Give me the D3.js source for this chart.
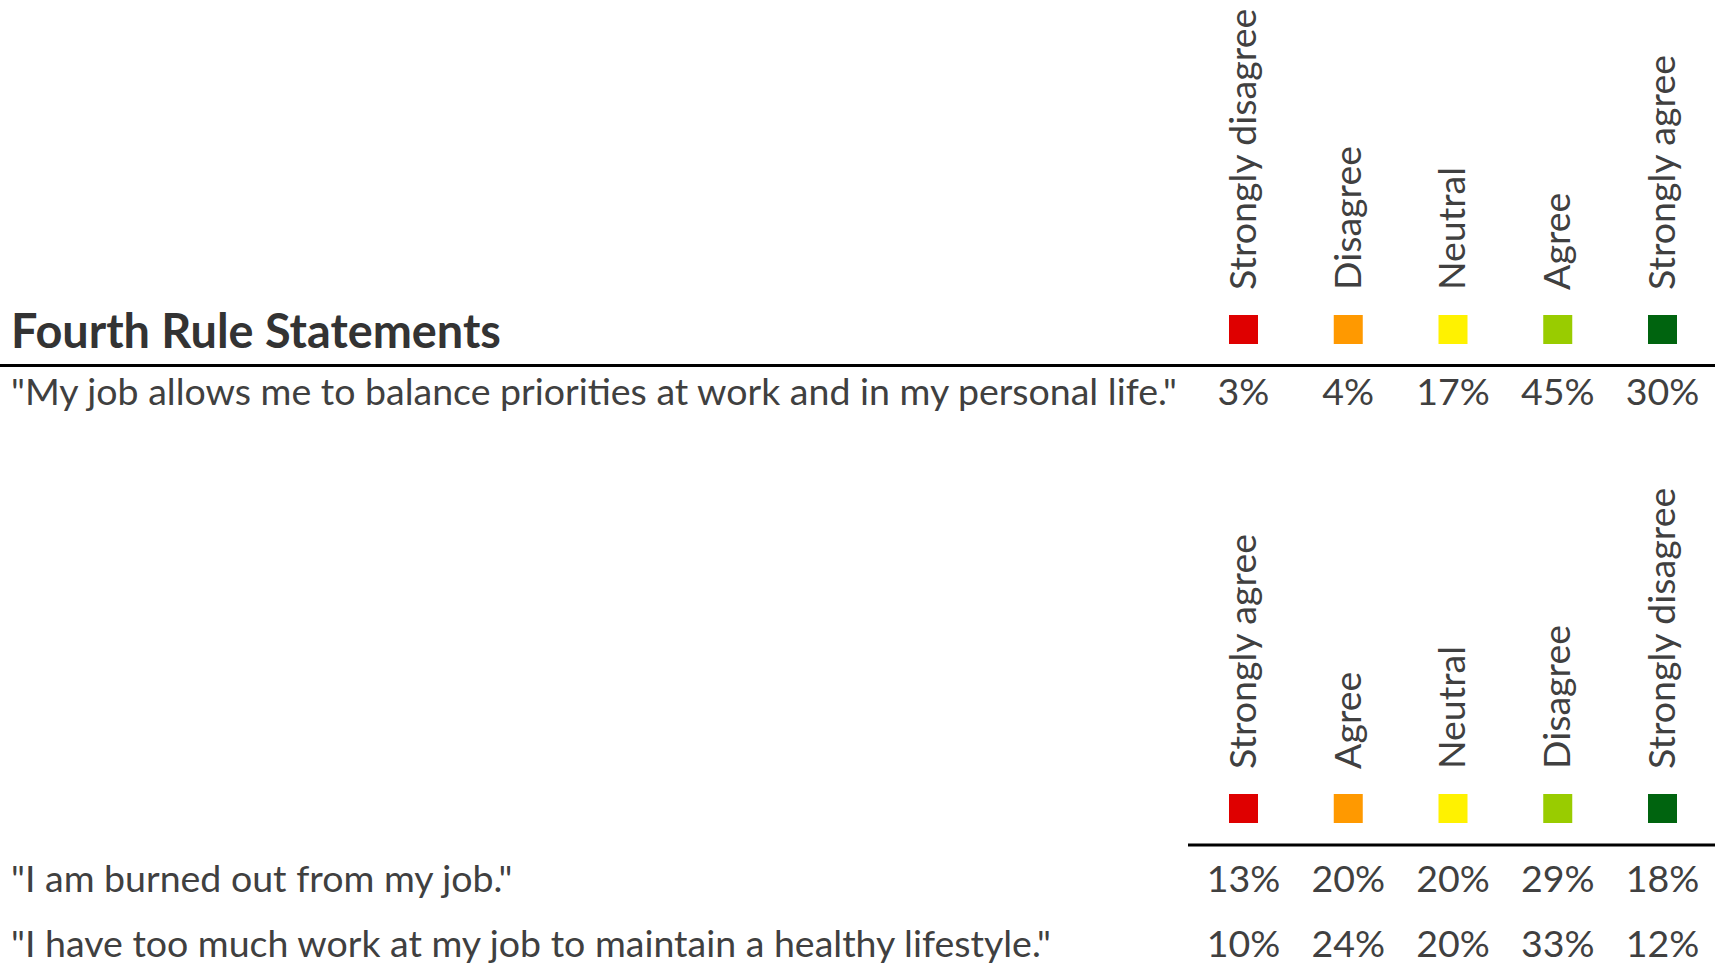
<!DOCTYPE html>
<html>
<head>
<meta charset="utf-8">
<script src="https://cdn.jsdelivr.net/npm/d3@7"></script>
<style>
  html, body { margin: 0; padding: 0; background: #ffffff; }
  svg { display: block; }
  text { font-family: Lato, "Open Sans", sans-serif; fill: #404040; }
</style>
</head>
<body>
<svg id="chart" width="1717" height="965"></svg>
<script>
// ---- data ----
const title = "Fourth Rule Statements";
const colors = ["#DF0000", "#FF9900", "#FFF200", "#99CC00", "#00640F"];

const scaleLabels1 = ["Strongly disagree", "Disagree", "Neutral", "Agree", "Strongly agree"];
const statements1 = ["\"My job allows me to balance priorities at work and in my personal life.\""];
const values1 = [[3, 4, 17, 45, 30]];

const scaleLabels2 = ["Strongly agree", "Agree", "Neutral", "Disagree", "Strongly disagree"];
const statements2 = [
  "\"I am burned out from my job.\"",
  "\"I have too much work at my job to maintain a healthy lifestyle.\""
];
const values2 = [[13, 20, 20, 29, 18], [10, 24, 20, 33, 12]];

// ---- layout ----
const W = 1717, H = 965;
const svg = d3.select("#chart");

// fit fonts to the measured widths of the reference text
function fitSize(str, weight, targetWidth) {
  const t = svg.append("text").attr("font-size", 100).attr("font-weight", weight).text(str);
  const w = t.node().getComputedTextLength();
  t.remove();
  return 100 * targetWidth / w;
}
const bodySize = fitSize(statements1[0], 400, 1166);
const titleSize = fitSize(title, 700, 490);

const x = d3.scalePoint().domain(d3.range(5)).range([1243.5, 1662.5]);
const swatch = 29;

function block(cfg) {
  const g = svg.append("g");
  // rotated column labels
  g.selectAll("text.lab").data(cfg.labels).join("text")
    .attr("class", "lab")
    .attr("transform", (d, i) => `translate(${x(i)},${cfg.labelBottom}) rotate(-90)`)
    .attr("dy", "0.33em")
    .attr("font-size", bodySize)
    .text(d => d);
  // swatches
  g.selectAll("rect").data(colors).join("rect")
    .attr("x", (d, i) => x(i) - swatch / 2)
    .attr("y", cfg.swatchTop)
    .attr("width", swatch).attr("height", swatch)
    .attr("fill", d => d);
  // rule
  g.append("line")
    .attr("x1", cfg.lineX0).attr("x2", 1715)
    .attr("y1", cfg.lineY).attr("y2", cfg.lineY)
    .attr("stroke", "#000").attr("stroke-width", 3);
  // rows
  cfg.statements.forEach((s, r) => {
    const y = cfg.rowBase + r * cfg.rowStep;
    g.append("text").attr("x", 11).attr("y", y).attr("font-size", bodySize).text(s);
    g.selectAll(null).data(cfg.values[r]).join("text")
      .attr("x", (d, i) => x(i)).attr("y", y)
      .attr("text-anchor", "middle")
      .attr("font-size", bodySize)
      .text(d => d + "%");
  });
}

svg.append("text")
  .attr("x", 11).attr("y", 348)
  .attr("font-size", titleSize).attr("font-weight", 700)
  .style("fill", "#333333")
  .text(title);

block({ labels: scaleLabels1, labelBottom: 290, swatchTop: 315, lineX0: 0, lineY: 365.5,
        statements: statements1, values: values1, rowBase: 405, rowStep: 65 });
block({ labels: scaleLabels2, labelBottom: 769, swatchTop: 794, lineX0: 1188, lineY: 845,
        statements: statements2, values: values2, rowBase: 892, rowStep: 65 });
</script>
</body>
</html>
